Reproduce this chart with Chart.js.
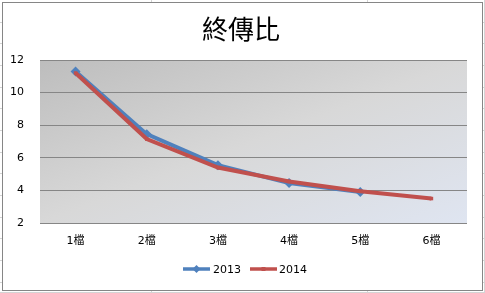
<!DOCTYPE html>
<html>
<head>
<meta charset="utf-8">
<script src="https://cdn.jsdelivr.net/npm/chart.js@4/dist/chart.umd.min.js"></script>
<style>
  html, body { margin: 0; padding: 0; background: #fff; }
  #wrap { position: relative; width: 485px; height: 293px; }
</style>
</head>
<body>
<div id="wrap"><canvas id="chart"></canvas></div>
<script>
const categories = ['1檔', '2檔', '3檔', '4檔', '5檔', '6檔'];
const values2013 = [11.3, 7.45, 5.55, 4.45, 3.9, null];
const values2014 = [11.2, 7.15, 5.4, 4.55, 3.95, 3.5];
const yTicks = [2, 4, 6, 8, 10, 12];
const chartTitle = '終傳比';

const BLUE = '#4f81bd';
const RED = '#c0504d';
const FONT = "'DejaVu Sans', 'Noto Sans CJK TC', sans-serif";

// plot-area gradient + sheet frame + title
const backdrop = {
  id: 'backdrop',
  beforeDraw(chart) {
    const { ctx, chartArea: a } = chart;
    ctx.save();
    // faint spreadsheet cell lines outside the frame
    ctx.strokeStyle = '#d4d4d4';
    ctx.lineWidth = 1;
    ctx.beginPath();
    ctx.moveTo(484.5, 0); ctx.lineTo(484.5, 293);
    ctx.moveTo(0, 292.5); ctx.lineTo(485, 292.5);
    [151.5, 367.5].forEach(x => { ctx.moveTo(x, 0); ctx.lineTo(x, 2); ctx.moveTo(x, 291); ctx.lineTo(x, 293); });
    [22.5, 43.5, 65.5, 87.5, 108.5, 130.5, 152.5, 173.5, 195.5, 217.5, 238.5, 260.5, 282.5].forEach(y => {
      ctx.moveTo(0, y); ctx.lineTo(2, y); ctx.moveTo(483, y); ctx.lineTo(485, y);
    });
    ctx.stroke();
    ctx.strokeStyle = '#868686';
    ctx.strokeRect(2.5, 2.5, 480, 288);

    // gradient in normalised box space, like the sheet's 45° fill
    ctx.save();
    ctx.translate(a.left, a.top);
    ctx.scale(a.right - a.left, a.bottom - a.top);
    const g = ctx.createLinearGradient(0, 0, 1, 1);
    g.addColorStop(0, '#bdbdbd');
    g.addColorStop(0.5, '#d8d8d8');
    g.addColorStop(1, '#dfe5f1');
    ctx.fillStyle = g;
    ctx.fillRect(0, 0, 1, 1);
    ctx.restore();

    ctx.fillStyle = '#000';
    ctx.font = "26px 'Noto Sans CJK TC', sans-serif";
    ctx.textAlign = 'center';
    ctx.textBaseline = 'middle';
    ctx.fillText(chartTitle, 241, 29);
    ctx.restore();
  }
};

// legend drawn as the sheet does: line with marker
const sheetLegend = {
  id: 'sheetLegend',
  afterDraw(chart) {
    const { ctx } = chart;
    const y = 269;
    ctx.save();
    ctx.font = '11px ' + FONT;
    ctx.textBaseline = 'middle';
    ctx.lineWidth = 3.5;

    ctx.strokeStyle = BLUE;
    ctx.beginPath(); ctx.moveTo(183, y); ctx.lineTo(210, y); ctx.stroke();
    ctx.fillStyle = BLUE;
    ctx.beginPath();
    ctx.moveTo(196.5, y - 4); ctx.lineTo(200.5, y); ctx.lineTo(196.5, y + 4); ctx.lineTo(192.5, y);
    ctx.closePath(); ctx.fill();
    ctx.fillStyle = '#000';
    ctx.fillText(chart.data.datasets[0].label, 213, y + 1);

    ctx.strokeStyle = RED;
    ctx.beginPath(); ctx.moveTo(250, y); ctx.lineTo(277, y); ctx.stroke();
    ctx.fillStyle = RED;
    ctx.fillRect(261.5, y - 2, 4, 4);
    ctx.fillStyle = '#000';
    ctx.fillText(chart.data.datasets[1].label, 279, y + 1);
    ctx.restore();
  }
};

new Chart(document.getElementById('chart'), {
  type: 'line',
  data: {
    labels: categories,
    datasets: [
      {
        label: '2013',
        data: values2013,
        borderColor: BLUE,
        backgroundColor: BLUE,
        borderWidth: 4,
        pointStyle: 'rectRot',
        pointRadius: 5,
        pointBorderWidth: 0,
        tension: 0,
        order: 1
      },
      {
        label: '2014',
        data: values2014,
        borderColor: RED,
        backgroundColor: RED,
        borderWidth: 4,
        pointStyle: 'rect',
        pointRadius: 2.5,
        pointBorderWidth: 0,
        tension: 0,
        order: 0
      }
    ]
  },
  options: {
    responsive: true,
    maintainAspectRatio: false,
    animation: false,
    layout: { padding: { left: 0, right: 18, top: 60, bottom: 30 } },
    plugins: {
      legend: { display: false },
      tooltip: { enabled: false },
      title: { display: false }
    },
    scales: {
      x: {
        offset: true,
        grid: { display: false, drawTicks: false },
        border: { display: false },
        ticks: { color: '#000', font: { family: FONT, size: 11 }, padding: 12 },
        afterFit(scale) { scale.height = 40; }
      },
      y: {
        min: 2,
        max: 12,
        afterBuildTicks(scale) { scale.ticks = yTicks.map(v => ({ value: v })); },
        grid: { color: '#868686', drawTicks: false },
        border: { display: false },
        ticks: { color: '#000', font: { family: FONT, size: 11 }, padding: 16 },
        afterFit(scale) { scale.width = 40; }
      }
    }
  },
  plugins: [backdrop, sheetLegend]
});
</script>
</body>
</html>
